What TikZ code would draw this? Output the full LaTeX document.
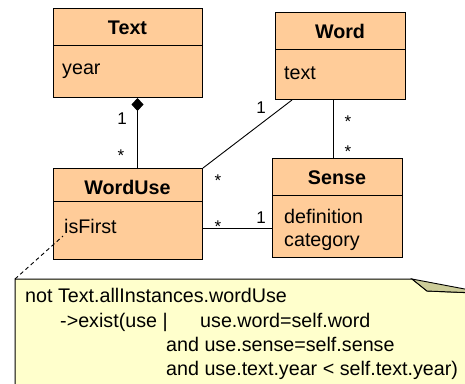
\documentclass[tikz,border=0pt]{standalone}
\usepackage{fontspec}
\setmainfont{Liberation Sans}
\usetikzlibrary{arrows.meta,calc}
\definecolor{clsfill}{RGB}{255,204,153}
\definecolor{notefill}{RGB}{255,255,204}
\definecolor{foldfill}{RGB}{204,204,153}
\begin{document}
\begin{tikzpicture}[x=1pt,y=-1pt,
 cls/.style={draw=black, fill=clsfill, line width=1pt, inner sep=0pt, anchor=north west},
 sep/.style={line width=1pt},
 cname/.style={font=\fontsize{19.7}{22}\selectfont\bfseries, anchor=base, inner sep=0pt},
 attr/.style={font=\fontsize{19.7}{22}\selectfont, anchor=base west, inner sep=0pt},
 mult/.style={font=\fontsize{17}{20}\selectfont, anchor=base, inner sep=0pt},
 conn/.style={line width=0.9pt},
 notetext/.style={font=\fontsize{19.7}{22}\selectfont, anchor=base west, inner sep=0pt}]
\useasboundingbox (0,0) rectangle (465,383);
\clip (0,0) rectangle (465,383);
% Text class
\node[cls, minimum width=149pt, minimum height=89pt] (text) at (53,8) {};
\draw[sep] ($(text.north west)+(0,37)$) -- ($(text.north east)+(0,37)$);
\node[cname] (textname) at (127.5,34) {Text};
\node[attr] (textattr) at (62,74) {year};
% WordUse class
\node[cls, minimum width=149pt, minimum height=91pt] (wu) at (53,168) {};
\draw[sep] ($(wu.north west)+(0,33)$) -- ($(wu.north east)+(0,33)$);
\node[cname] (wuname) at (127.5,194) {WordUse};
\node[attr] (wuattr) at (64,233) {isFirst};
% Word class
\node[cls, minimum width=130pt, minimum height=87pt] (word) at (275,12) {};
\draw[sep] ($(word.north west)+(0,37)$) -- ($(word.north east)+(0,37)$);
\node[cname] (wordname) at (340,38) {Word};
\node[attr] (wordattr) at (284,79) {text};
% Sense class
\node[cls, minimum width=130pt, minimum height=99pt] (sense) at (272,158) {};
\draw[sep] ($(sense.north west)+(0,37)$) -- ($(sense.north east)+(0,37)$);
\node[cname] (sensename) at (337,184) {Sense};
\node[attr] (senseattr1) at (284,223) {definition};
\node[attr] (senseattr2) at (284,246) {category};
% connectors
\draw[conn,{Diamond[length=13pt,width=12pt]}-] ($(text.south)+(9.5,0)$) -- ($(wu.north)+(9.5,0)$);
\draw[conn] (wu.north east) -- ($(word.south west)+(17,0)$);
\draw[conn] ($(word.south)+(-7,0)$) -- ($(sense.north)+(-4,0)$);
\coordinate (hline) at (0,228);
\draw[conn] (wu.east |- hline) -- (sense.west |- hline);
% multiplicities
\node[mult] (m1) at (122,124) {1};
\node[mult] (m2) at (121,161) {*};
\node[mult] (m3) at (218,186) {*};
\node[mult] (m4) at (261,113) {1};
\node[mult] (m5) at (348,127) {*};
\node[mult] (m6) at (348,157) {*};
\node[mult] (m7) at (218,232) {*};
\node[mult] (m8) at (261,223) {1};
% note
\draw[fill=notefill, line width=1pt] (15,395) -- (15,279) -- (412,279) -- (427,291) -- (475,293) -- (475,395) -- cycle;
\draw[fill=foldfill, line width=0.9pt] (412,279) -- (427,291) -- (470,292.7) -- (470,290) -- cycle;
\coordinate (note) at (15,279);
\node[notetext] (n1) at (25,302) {not Text.allInstances.wordUse};
\node[notetext] (n2) at (60,327) {->exist(use |};
\node[notetext] (n2b) at (200,327) {use.word=self.word};
\node[notetext] (n3) at (166,351) {and use.sense=self.sense};
\node[notetext] (n4) at (166,375) {and use.text.year < self.text.year)};
\coordinate (isfirstpt) at (63,236);
\draw[conn, dash pattern=on 4pt off 3pt] (note) -- (isfirstpt);
\end{tikzpicture}
\end{document}
